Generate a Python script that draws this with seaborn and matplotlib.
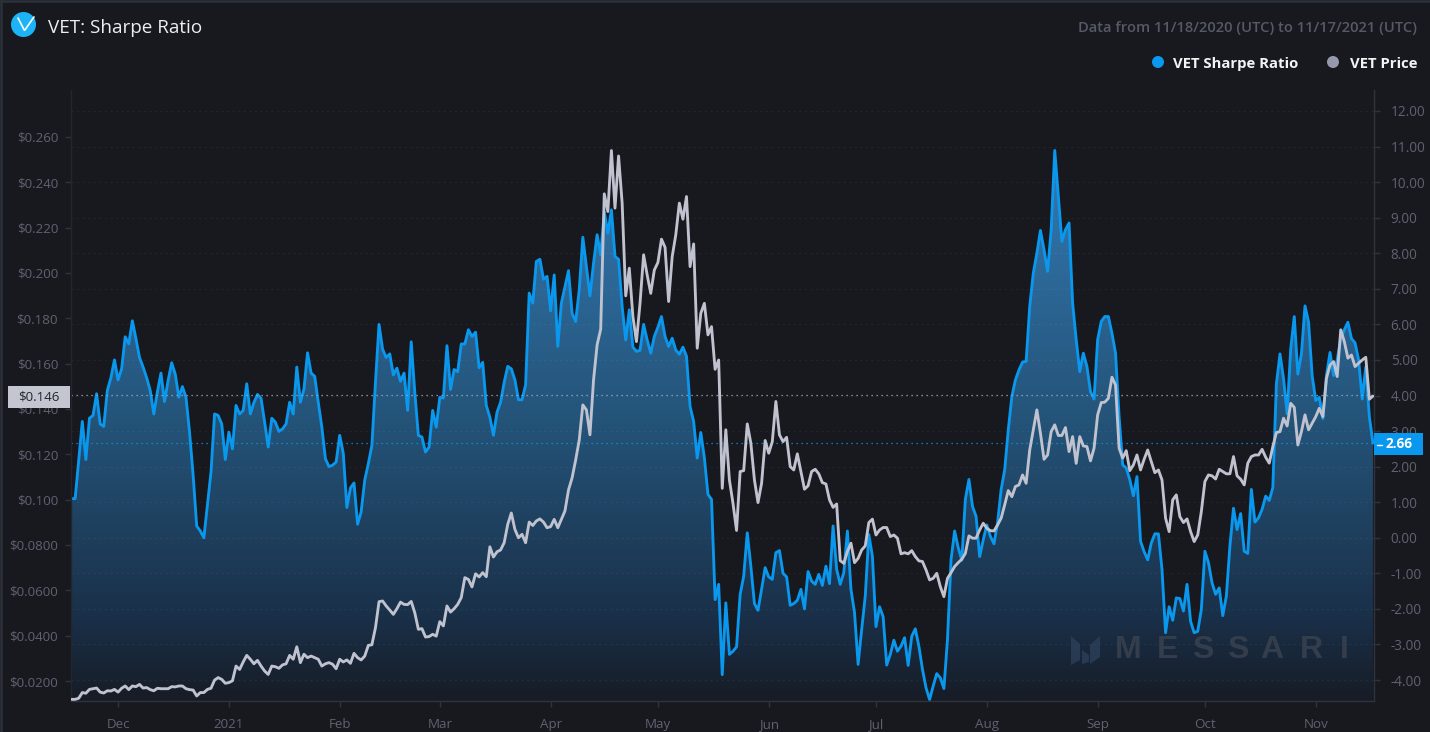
import numpy as np
import pandas as pd
import seaborn as sns
import matplotlib
matplotlib.use("Agg")
import matplotlib.pyplot as plt
from matplotlib.patches import Circle, Polygon, Rectangle

START_DATE = "2020-11-18"

sharpe = [
 1.10,1.10,2.2,3.27,2.2,3.36,3.44,4.05,3.2,3.13,
 4.14,4.5,5.0,4.44,4.75,5.65,5.45,6.1,5.6,5.07,
 4.8,4.5,4.14,3.48,4.1,4.63,3.83,4.42,4.92,4.6,
 3.95,4.25,3.95,2.97,1.76,.33,.19,0.0,.92,1.85,
 3.48,3.44,3.2,2.2,2.97,2.5,3.72,3.48,3.58,4.33,
 3.48,3.8,4.03,3.92,3.25,2.55,3.36,3.25,2.99,3.06,
 3.2,3.81,3.48,4.8,3.81,4.18,5.2,4.63,4.54,3.81,
 3.11,2.22,2.0,2.04,2.13,2.88,2.37,.85,1.4,1.54,
 .38,.73,1.62,2.08,2.6,4.37,6.0,5.3,5.07,5.17,
 4.58,4.77,4.4,4.63,3.58,5.51,4.09,2.88,2.83,2.41,
 2.55,3.58,3.11,3.95,3.93,5.4,4.17,4.73,4.67,5.45,
 5.45,5.85,5.66,5.78,4.78,4.93,3.72,3.39,2.88,3.53,
 3.81,4.37,4.82,4.75,4.44,3.88,3.88,4.3,6.88,6.6,
 7.77,7.83,7.27,7.35,6.38,7.39,5.38,6.6,7.06,7.51,
 6.31,6.08,6.97,8.45,7.63,6.8,7.72,8.52,7.95,9.17,
 8.56,9.22,7.91,7.83,6.5,5.56,6.41,5.36,5.24,5.27,
 6.0,5.56,5.19,5.66,5.92,6.22,5.66,5.38,5.61,5.28,
 5.16,5.36,5.1,3.69,3.27,2.24,2.96,2.25,1.22,1.08,
 -1.74,-1.31,-3.85,-1.83,-3.28,-3.19,-3.07,-1.6,-1.08,.14,
 -.8,-1.85,-2.04,-1.45,-.84,-1.1,-1.17,-.42,-.36,-1.0,
 -1.1,-1.9,-1.85,-1.76,-1.45,-2.0,-.95,-1.22,-1.31,-1.03,
 -1.34,-.8,-1.29,.33,-.89,-1.31,-.98,.19,-1.45,-2.11,
 -3.56,-2.58,-1.64,.09,-.52,-2.5,-1.94,-2.22,-3.58,-3.28,
 -2.88,-3.19,-3.05,-2.81,-3.59,-2.77,-2.56,-3.05,-3.7,-4.22,
 -4.55,-4.17,-3.82,-3.94,-4.24,-2.86,-.61,.19,-.28,-.63,
 1.08,1.64,.88,.6,-.53,-.06,.36,.04,-.17,.41,
 1.35,1.91,3.03,3.97,4.44,4.72,4.94,4.96,6.5,7.44,
 8.0,8.64,8.1,7.49,8.66,10.89,9.6,8.33,8.66,8.85,
 6.6,5.57,4.67,5.19,4.82,4.11,3.9,5.57,6.08,6.22,
 6.22,5.75,5.19,3.41,2.05,1.96,1.63,1.18,1.72,-.1,
 -.39,-.62,-.15,.11,.11,-.89,-2.67,-1.94,-2.32,-1.69,
 -1.71,-2.06,-1.31,-2.35,-2.67,-2.63,-2.02,-.38,-.7,-1.27,
 -1.59,-1.41,-2.19,-1.64,-.23,.83,.23,.68,-.38,-.44,
 1.36,.44,.56,.8,1.17,1.05,1.41,4.33,5.17,4.47,
 3.49,5.31,6.22,4.6,5.17,6.52,6.06,4.56,3.86,3.95,
 3.35,4.56,5.21,4.56,5.0,5.6,5.85,6.06,5.6,5.48,
 5.0,3.9,4.8,3.4,2.66,
]

price = [
 .0119,.0119,.0124,.0149,.0146,.0163,.0166,.0169,.0151,.0147,
 .0157,.0156,.0163,.0151,.0168,.0178,.0162,.0178,.0175,.0185,
 .0169,.0171,.0162,.0157,.0168,.0166,.0166,.0166,.0175,.0174,
 .0178,.0178,.0166,.0162,.016,.0134,.0149,.0149,.0163,.0168,
 .0204,.0215,.0207,.019,.0193,.0201,.0266,.0251,.0284,.0313,
 .0296,.0276,.0291,.0266,.0244,.0229,.0266,.0263,.0256,.0271,
 .0276,.0313,.0296,.0351,.0281,.0318,.0303,.031,.0303,.0296,
 .0266,.0276,.0281,.0274,.0254,.0296,.0284,.0293,.0278,.0322,
 .0303,.0293,.031,.0357,.036,.0435,.055,.0553,.0531,.0513,
 .0494,.0519,.0548,.0538,.0537,.0551,.0501,.0428,.0431,.0394,
 .0396,.0406,.0398,.0462,.0443,.0531,.0504,.0519,.0538,.0568,
 .0656,.0648,.0615,.0673,.0659,.0678,.066,.0792,.0747,.077,
 .0778,.081,.0891,.0941,.0869,.0832,.0847,.081,.0901,.0886,
 .0906,.0915,.0901,.0876,.0881,.0913,.0876,.0913,.095,.1043,
 .1096,.1175,.1263,.1418,.1396,.1286,.1528,.1683,.1752,.2349,
 .2271,.254,.2286,.2516,.2308,.1899,.2021,.1808,.1697,.1866,
 .208,.1991,.191,.2013,.2046,.2149,.2113,.1874,.2072,.2168,
 .2308,.2237,.2337,.2028,.2128,.1668,.1822,.1866,.1727,.1763,
 .1575,.1616,.105,.1308,.1087,.0984,.0864,.1124,.1128,.1334,
 .1249,.1087,.0987,.1072,.1261,.1205,.1256,.1433,.1286,.1256,
 .1275,.1146,.1131,.1202,.1124,.1046,.1061,.1124,.1134,.1114,
 .1075,.1069,.0999,.0966,.0981,.0731,.0719,.0771,.0808,.0722,
 .0741,.0778,.0796,.0899,.0914,.0844,.0866,.0877,.0877,.0837,
 .0844,.083,.0761,.0766,.0761,.0775,.0749,.073,.0727,.069,
 .0646,.0653,.0675,.0616,.0572,.0653,.0678,.0705,.0722,.0737,
 .0763,.084,.083,.083,.0866,.0896,.0874,.0863,.0862,.0888,
 .0918,.0977,.104,.1013,.1058,.1065,.1109,.1072,.1219,.1308,
 .1396,.1293,.1178,.1197,.13,.133,.1283,.1283,.1318,.1212,
 .1278,.116,.1278,.1237,.1234,.1171,.1227,.1374,.1428,.143,
 .1447,.154,.1506,.1227,.1183,.1216,.1128,.1153,.1197,.1131,
 .1178,.1219,.1168,.1119,.1131,.1087,.0918,.0859,.0999,.1021,
 .0925,.0899,.0915,.0859,.0815,.0844,.0947,.108,.1109,.1105,
 .1091,.1134,.1124,.1114,.1114,.119,.1105,.109,.1065,.1161,
 .119,.1197,.1197,.1222,.1187,.1161,.1234,.1296,.13,.1359,
 .1325,.1425,.1407,.1241,.13,.1374,.1308,.1337,.1366,.1403,
 .1366,.1535,.1594,.1609,.1543,.1749,.1697,.1624,.1638,.1587,
 .1602,.1616,.1628,.1443,.1457,
]

left_ticks = [.26,.24,.22,.20,.18,.16,.14,.12,.10,.08,.06,.04,.02]
left_labels = ["$0.260","$0.240","$0.220","$0.200","$0.180","$0.160","$0.140","$0.120","$0.100",
               "$0.0800","$0.0600","$0.0400","$0.0200"]
right_ticks = [12,11,10,9,8,7,6,5,4,3,2,1,0,-1,-2,-3,-4]
month_ticks = ["2020-12-01","2021-01-01","2021-02-01","2021-03-01","2021-04-01","2021-05-01",
               "2021-06-01","2021-07-01","2021-08-01","2021-09-01","2021-10-01","2021-11-01"]
month_labels = ["Dec","2021","Feb","Mar","Apr","May","Jun","Jul","Aug","Sep","Oct","Nov"]
last_price = 0.146
last_sharpe = 2.66
title = "VET: Sharpe Ratio"
subtitle = "Data from 11/18/2020 (UTC) to 11/17/2021 (UTC)"
legend_names = ["VET Sharpe Ratio", "VET Price"]

BG = "#17191f"; BLUE = "#0a98ee"; WHITE = "#c0c3cf"; TICK = "#5f6370"; SPINE = "#2f333c"

n = min(len(sharpe), len(price))
df = pd.DataFrame({"date": pd.date_range(START_DATE, periods=n),
                   "sharpe": sharpe[:n], "price": price[:n]})

sns.set_theme(style="dark")
plt.rcParams["font.family"] = ["Open Sans", "DejaVu Sans"]

W, H = 1430, 732
fig = plt.figure(figsize=(W/100, H/100), dpi=100, facecolor=BG)
L, R, T, B = 70.5, 1374.0, 90.0, 701.0
rect = [L/W, 1-B/H, (R-L)/W, (B-T)/H]

ax_r = fig.add_axes(rect, facecolor=BG, zorder=1)
ax_l = fig.add_axes(rect, facecolor="none", zorder=2)

t0 = pd.Timestamp(START_DATE)
xlim = (t0 - pd.Timedelta(days=0.3), t0 + pd.Timedelta(days=364.3))
ylim_r = (-4.59, 12.59)
ylim_l = (0.01118, 0.2807)

# gradient area under the Sharpe line
poly = ax_r.fill_between(df["date"], df["sharpe"], ylim_r[0], color="none", lw=0)
stops_y = np.array([0.0, 0.08, 0.50, 0.85, 1.0])
stops_c = np.array([[0x33,0x7a,0xb2],[0x31,0x74,0xaa],[0x24,0x53,0x78],[0x1a,0x30,0x49],[0x17,0x1c,0x26]])/255
g = np.linspace(0, 1, 256)
img = np.stack([np.interp(g, stops_y, stops_c[:, i]) for i in range(3)], axis=1)[:, None, :]
xnum = matplotlib.dates.date2num(xlim)
im = ax_r.imshow(img, extent=[xnum[0], xnum[1], ylim_r[0], 11.0], origin="upper",
                 aspect="auto", zorder=1.5)
im.set_clip_path(poly.get_paths()[0], transform=ax_r.transData)

for v in right_ticks:
    ax_r.axhline(v, color="#ffffff", alpha=0.05, lw=0.8, ls=(0, (2, 3)), zorder=2)

sns.lineplot(data=df, x="date", y="sharpe", ax=ax_r, color=BLUE, lw=2.05, zorder=3, legend=False)
sns.lineplot(data=df, x="date", y="price", ax=ax_l, color=WHITE, lw=2.05, zorder=3, legend=False)

ax_r.axhline(last_sharpe, color=BLUE, lw=0.9, ls=(0, (1, 3)), zorder=2.5)
ax_l.axhline(last_price, color="#a8abb5", lw=0.9, ls=(0, (1, 3)), zorder=2.5)

ax_r.set_xlim(*xlim); ax_l.set_xlim(*xlim)
ax_r.set_ylim(*ylim_r); ax_l.set_ylim(*ylim_l)
ax_r.set_xlabel(""); ax_r.set_ylabel(""); ax_l.set_xlabel(""); ax_l.set_ylabel("")

ax_r.yaxis.tick_right()
ax_r.set_yticks(right_ticks)
ax_r.set_yticklabels([f"{v:.2f}" for v in right_ticks])
ax_r.tick_params(axis="y", colors=SPINE, length=4, width=1, pad=8, labelcolor=TICK, labelsize=9.8, right=True, left=False)
ax_r.set_xticks([])
for lab in ax_r.get_yticklabels():
    lab.set_ha("left")

ax_l.set_yticks(left_ticks)
ax_l.set_yticklabels(left_labels)
ax_l.tick_params(axis="y", colors=SPINE, length=4, width=1, pad=5, labelcolor=TICK, labelsize=9.6, left=True)
ax_l.set_xticks(pd.to_datetime(month_ticks))
ax_l.set_xticklabels(month_labels)
ax_l.tick_params(axis="x", colors=SPINE, length=4, width=1, pad=8, labelcolor=TICK, labelsize=9.6, bottom=True)

for ax in (ax_r, ax_l):
    for s in ax.spines.values():
        s.set_visible(False)
ax_r.spines["right"].set_visible(True); ax_r.spines["right"].set_color(SPINE); ax_r.spines["right"].set_linewidth(1)
ax_l.spines["bottom"].set_visible(True); ax_l.spines["bottom"].set_color(SPINE); ax_l.spines["bottom"].set_linewidth(1)
ax_l.spines["left"].set_visible(True); ax_l.spines["left"].set_color("#23262e"); ax_l.spines["left"].set_linewidth(1)

# overlay in pixel coordinates for chart furniture
ov = fig.add_axes([0, 0, 1, 1], facecolor="none", zorder=5)
ov.set_xlim(0, W); ov.set_ylim(H, 0); ov.axis("off")

ov.plot([1, 1], [0, H], color="#2b303a", lw=1.8)
ov.plot([0, W], [1, 1], color="#2b303a", lw=1.8)
ov.add_patch(Circle((23.5, 24.5), 12.5, fc="#1cb4f6", ec="none"))
ov.plot([18, 24.5, 34], [18, 30.5, 17], color="white", lw=1.2, solid_joinstyle="miter", clip_on=True)
ov.text(48, 28, title, color="#eceef1", fontsize=13.6, va="center", ha="left")
ov.text(1417, 28, subtitle, color="#565a66", fontsize=10.6, va="center", ha="right", fontweight="semibold")

ov.add_patch(Circle((1158, 62), 6, fc=BLUE, ec="none"))
ov.add_patch(Circle((1333, 62), 6, fc="#9599ab", ec="none"))
ov.text(1173, 64, legend_names[0], color="#f2f3f5", fontsize=10.7, va="center", ha="left", fontweight="bold")
ov.text(1417, 64, legend_names[1], color="#f2f3f5", fontsize=10.7, va="center", ha="right", fontweight="bold")

# last-value tags
ov.add_patch(Rectangle((8, 386), 62, 21.5, fc="#c3c6d0", ec="none"))
ov.text(39, 397, f"${last_price:.3f}", color="#23262e", fontsize=9.6, va="center", ha="center")
ov.add_patch(Rectangle((1374, 433), 49, 22, fc=BLUE, ec="none"))
ov.plot([1377, 1382], [444.5, 444.5], color="white", lw=1)
ov.text(1386, 444.5, f"{last_sharpe:.2f}", color="white", fontsize=9.8, va="center", ha="left", fontweight="bold")

# watermark
wm = "#3a4350"
for ch, x in zip("MESSARI", [1115, 1157, 1192, 1227, 1260, 1300, 1340]):
    ov.text(x, 650, ch, color=wm, alpha=0.8, fontsize=23, fontweight="bold", va="center", ha="left",
            family="Liberation Sans")
for pts in ([(1071, 636), (1080, 644), (1080, 660), (1071, 665)],
            [(1082, 650), (1089, 655), (1089, 662), (1082, 664)],
            [(1090, 645), (1100, 636), (1100, 657), (1090, 664)]):
    ov.add_patch(Polygon(pts, closed=True, fc="#2b4058", alpha=0.8, ec="none"))

fig.savefig("out.png", dpi=100, facecolor=BG)
